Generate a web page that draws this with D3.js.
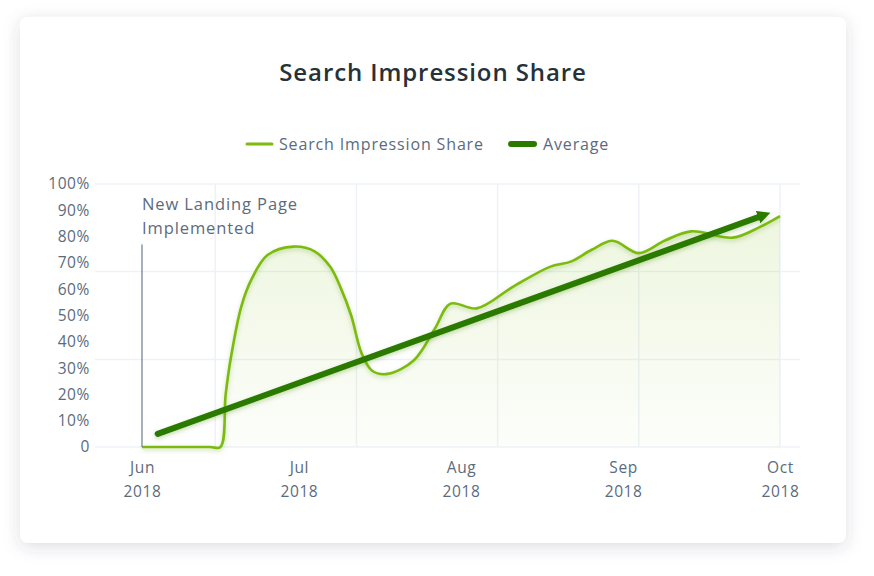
<!DOCTYPE html>
<html lang="en">
<head>
<meta charset="UTF-8" />
<title>Search Impression Share</title>
<style>
  body { margin: 0; background: #fff; }
  svg { display: block; font-family: "Open Sans", sans-serif; }
</style>
</head>
<body>
<script src="https://cdn.jsdelivr.net/npm/d3@7"></script>
<div id="app"></div>
<script>
// DATA
const months = ["2018-06-01", "2018-07-01", "2018-08-01", "2018-09-01", "2018-10-01"];
const shareDates = ["2018-06-01", "2018-06-14", "2018-06-16", "2018-06-17", "2018-06-18", "2018-06-20",
  "2018-06-22", "2018-06-25", "2018-06-30", "2018-07-04", "2018-07-07", "2018-07-09", "2018-07-11",
  "2018-07-13", "2018-07-15", "2018-07-18", "2018-07-23", "2018-07-27", "2018-07-30", "2018-08-04",
  "2018-08-11", "2018-08-18", "2018-08-22", "2018-08-26", "2018-08-30", "2018-09-04", "2018-09-09",
  "2018-09-14", "2018-09-22", "2018-09-27", "2018-10-01"];
const shareValues = [0, 0, 0, 20, 34, 53.5, 64, 73, 76.2, 74.4, 68.5, 60.5, 50, 35.6, 29, 27.8,
  33, 45, 54.5, 52.7, 61, 68.5, 70.5, 75, 78.4, 73.7, 78.5, 82, 79.6, 83.5, 87.8];
const avgDates = ["2018-06-04", "2018-09-27"];
const avgValues = [5, 87.5];
const yTicks = [0, 10, 20, 30, 40, 50, 60, 70, 80, 90, 100];
const gridY = [0, 33.3, 66.7, 100];
const gridX = ["2018-06-15", "2018-07-12", "2018-08-08", "2018-09-04", "2018-10-01"];
const annotation = { date: "2018-06-01", value: 77, lines: ["New Landing Page", "Implemented"] };

const parse = d3.timeParse("%Y-%m-%d");
const share = shareDates.map((d, i) => ({ date: parse(d), value: shareValues[i] }));
const avg = avgDates.map((d, i) => ({ date: parse(d), value: avgValues[i] }));

// SVG
const w = 874, h = 576;
const lightGreen = "#7cbb0e", darkGreen = "#2b7a00", textColor = "#5b6b7e";

const svg = d3.select("#app").append("svg")
  .attr("width", w).attr("height", h);

const defs = svg.append("defs");

const cardShadow = defs.append("filter").attr("id", "cardShadow")
  .attr("x", "-10%").attr("y", "-10%").attr("width", "120%").attr("height", "125%");
cardShadow.append("feDropShadow")
  .attr("dx", 0).attr("dy", 4).attr("stdDeviation", 8)
  .attr("flood-color", "#34405a").attr("flood-opacity", 0.17);

const lineShadow = defs.append("filter").attr("id", "lineShadow")
  .attr("x", "-5%").attr("y", "-20%").attr("width", "110%").attr("height", "140%");
lineShadow.append("feDropShadow")
  .attr("dx", 0).attr("dy", 2).attr("stdDeviation", 2)
  .attr("flood-color", "#4a8a00").attr("flood-opacity", 0.3);

const x = d3.scaleTime()
  .domain([parse(months[0]), parse(months[months.length - 1])])
  .range([142, 780]);
const y = d3.scaleLinear().domain([0, 100]).range([447, 184]);

const grad = defs.append("linearGradient").attr("id", "areaFill")
  .attr("gradientUnits", "userSpaceOnUse")
  .attr("x1", 0).attr("y1", y(100)).attr("x2", 0).attr("y2", y(0));
grad.append("stop").attr("offset", 0).attr("stop-color", lightGreen).attr("stop-opacity", 0.15);
grad.append("stop").attr("offset", 1).attr("stop-color", lightGreen).attr("stop-opacity", 0.02);

defs.append("marker").attr("id", "arrow")
  .attr("markerUnits", "userSpaceOnUse")
  .attr("viewBox", "0 -7 13 14")
  .attr("markerWidth", 13).attr("markerHeight", 14)
  .attr("refX", 1).attr("refY", 0)
  .attr("orient", "auto")
  .append("path").attr("d", "M0,-6.5L13,0L0,6.5Z").attr("fill", darkGreen);

// CARD
svg.append("rect")
  .attr("x", 20).attr("y", 17).attr("width", 826).attr("height", 526)
  .attr("rx", 8).attr("fill", "#fff")
  .attr("filter", "url(#cardShadow)");

// TITLE
svg.append("text")
  .attr("x", 433).attr("y", 81)
  .attr("text-anchor", "middle")
  .attr("font-size", 24).attr("font-weight", 600)
  .attr("letter-spacing", 0.9)
  .attr("fill", "#263238")
  .text("Search Impression Share");

// LEGEND
const legend = svg.append("g").attr("font-size", 16).attr("fill", textColor).attr("letter-spacing", 0.85);
legend.append("line").attr("x1", 247).attr("x2", 272).attr("y1", 144).attr("y2", 144)
  .attr("stroke", lightGreen).attr("stroke-width", 3).attr("stroke-linecap", "round");
legend.append("text").attr("x", 279).attr("y", 149.5).text("Search Impression Share");
legend.append("line").attr("x1", 511).attr("x2", 534).attr("y1", 144).attr("y2", 144)
  .attr("stroke", darkGreen).attr("stroke-width", 6).attr("stroke-linecap", "round");
legend.append("text").attr("x", 543).attr("y", 149.5).text("Average");

// GRID
svg.append("g").selectAll("line").data(gridY).enter().append("line")
  .attr("x1", 95).attr("x2", 800)
  .attr("y1", d => y(d)).attr("y2", d => y(d))
  .attr("stroke", "#eef2f7").attr("stroke-width", 1.5);
svg.append("g").selectAll("line").data(gridX).enter().append("line")
  .attr("x1", d => x(parse(d))).attr("x2", d => x(parse(d)))
  .attr("y1", y(100)).attr("y2", y(0))
  .attr("stroke", "#eef2f7").attr("stroke-width", 1.5);

// AXIS
const yAxis = svg.append("g")
  .attr("transform", "translate(90,0)")
  .call(d3.axisLeft(y).tickValues(yTicks).tickSize(0).tickPadding(0)
    .tickFormat(d => d === 0 ? "0" : d + "%"));
yAxis.select(".domain").remove();
yAxis.selectAll("text")
  .attr("font-family", "Open Sans").attr("font-size", 15.5).attr("letter-spacing", 0.6)
  .attr("fill", textColor);

const xAxis = svg.append("g")
  .attr("transform", "translate(0,447)")
  .call(d3.axisBottom(x).tickValues(months.map(parse)).tickSize(0).tickPadding(0)
    .tickFormat(d3.timeFormat("%b")));
xAxis.select(".domain").remove();
xAxis.selectAll("text")
  .attr("font-family", "Open Sans").attr("font-size", 15.5).attr("letter-spacing", 0.6)
  .attr("fill", textColor)
  .attr("dy", null).attr("y", 26)
  .each(function (d) {
    d3.select(this).append("tspan")
      .attr("x", 0).attr("dy", 24)
      .text(d3.timeFormat("%Y")(d));
  });

// AREA + LINE
const curve = d3.curveCatmullRom.alpha(0.5);
svg.append("path").datum(share)
  .attr("d", d3.area().x(d => x(d.date)).y0(y(0)).y1(d => y(d.value)).curve(curve))
  .attr("fill", "url(#areaFill)");

svg.append("path").datum(share)
  .attr("d", d3.line().x(d => x(d.date)).y(d => y(d.value)).curve(curve))
  .attr("fill", "none").attr("stroke", lightGreen).attr("stroke-width", 2.6)
  .attr("stroke-linejoin", "round")
  .attr("filter", "url(#lineShadow)");

// ANNOTATION
const ax = x(parse(annotation.date));
svg.append("line")
  .attr("x1", ax).attr("x2", ax).attr("y1", y(annotation.value)).attr("y2", y(0))
  .attr("stroke", "#6c7b8e").attr("stroke-width", 1.2);
svg.append("text")
  .attr("font-size", 16.5).attr("letter-spacing", 0.9).attr("fill", textColor)
  .selectAll("tspan").data(annotation.lines).enter().append("tspan")
  .attr("x", ax).attr("y", (d, i) => 210 + i * 23.5)
  .text(d => d);

// AVERAGE
svg.append("path").datum(avg)
  .attr("d", d3.line().x(d => x(d.date)).y(d => y(d.value)))
  .attr("fill", "none").attr("stroke", darkGreen).attr("stroke-width", 6)
  .attr("stroke-linecap", "round")
  .attr("marker-end", "url(#arrow)")
  .attr("filter", "url(#lineShadow)");
</script>
</body>
</html>
